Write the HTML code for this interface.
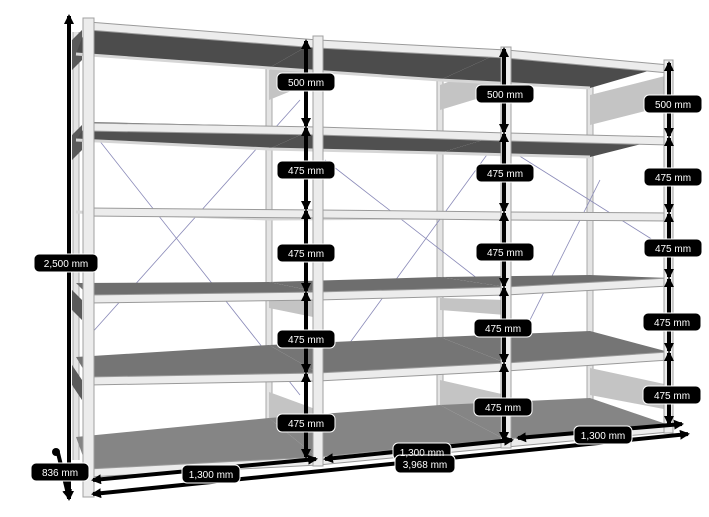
<!DOCTYPE html>
<html><head><meta charset="utf-8"><style>
html,body{margin:0;padding:0;background:#fff;}
svg{display:block;}
text{font-family:"Liberation Sans",sans-serif;font-size:10px;fill:#fff;text-anchor:middle;}
</style></head><body>
<svg width="709" height="517" viewBox="0 0 709 517" xmlns="http://www.w3.org/2000/svg">
<defs>
<marker id="a" viewBox="0 0 10 10" refX="8" refY="5" markerWidth="10" markerHeight="10" markerUnits="userSpaceOnUse" orient="auto-start-reverse">
<path d="M0,0 L10,5 L0,10 z" fill="#000"/></marker>
</defs>
<!-- back uprights -->
<g stroke="#a8a8a8" stroke-width="7"><line x1="76" y1="32" x2="76" y2="460"/><line x1="269" y1="62" x2="269" y2="434"/><line x1="440" y1="75" x2="440" y2="414"/><line x1="590" y1="84" x2="590" y2="404"/></g>
<g stroke="#e4e4e4" stroke-width="5"><line x1="76" y1="32" x2="76" y2="460"/><line x1="269" y1="62" x2="269" y2="434"/><line x1="440" y1="75" x2="440" y2="414"/><line x1="590" y1="84" x2="590" y2="404"/></g>
<!-- side plates -->
<g fill="#c4c4c4"><polygon points="269,70 318,50 318,80 269,100"/><polygon points="440,85 506,60 506,90 440,110"/><polygon points="590,95 669,75 669,105 590,125"/><polygon points="269,392 318,410 318,440 269,420"/><polygon points="440,380 506,395 506,425 440,405"/><polygon points="590,368 669,385 669,410 590,395"/><polygon points="440,298 506,300 506,315 440,310"/><polygon points="269,290 318,298 318,318 269,308"/></g>
<g fill="#5a5a5a"><polygon points="72,40 82,30 82,60 72,70"/><polygon points="72,135 82,125 82,150 72,160"/><polygon points="72,290 82,300 82,320 72,310"/><polygon points="72,365 82,380 82,400 72,385"/></g>
<!-- braces -->
<g stroke="#8a8ab8" stroke-width="0.8" fill="none"><line x1="95" y1="135" x2="300" y2="395"/><line x1="90" y1="335" x2="300" y2="100"/><line x1="325" y1="160" x2="505" y2="300"/><line x1="330" y1="370" x2="505" y2="130"/><line x1="510" y1="150" x2="669" y2="250"/><line x1="515" y1="350" x2="600" y2="180"/></g>
<!-- panels -->
<g fill="#4c4c4c"><polygon points="88,22 318,40 269,68 76,54"/><polygon points="318,40 506,50 440,80 269,68"/><polygon points="506,50 669,65 590,88 440,80"/></g>
<g fill="#505050"><polygon points="88,122 318,127 269,149 76,140"/><polygon points="318,127 506,133 440,153 269,149"/><polygon points="506,133 669,137 590,157 440,153"/></g>
<g fill="#6e6e6e"><polygon points="88,295 318,292 269,282 76,283"/><polygon points="318,292 506,287 440,277 269,282"/><polygon points="506,287 669,278 590,275 440,277"/></g>
<g fill="#757575"><polygon points="88,377 318,373 269,345 76,357"/><polygon points="318,373 506,363 440,337 269,345"/><polygon points="506,363 669,352 590,331 440,337"/></g>
<g fill="#858585"><polygon points="88,470 318,458 269,418 76,437"/><polygon points="318,458 506,440 440,405 269,418"/><polygon points="506,440 669,425 590,398 440,405"/></g>
<!-- back beams -->
<g stroke="#d6d6d6" stroke-width="3" fill="none"><polyline points="76,54 269,68 440,80 590,88"/><polyline points="76,140 269,149 440,153 590,157"/><polyline points="76,212 269,219 440,218 590,219"/></g>
<!-- front beams -->
<g stroke="#9a9a9a" stroke-width="9" fill="none"><polyline points="88,26 318,44 506,54 669,69"/><polyline points="88,127 318,131 506,137 669,141"/><polyline points="88,212 318,214 506,216 669,217"/><polyline points="88,299 318,296 506,291 669,282"/><polyline points="88,381 318,377 506,367 669,356"/><polyline points="88,473 318,461 506,443 669,428"/></g>
<g stroke="#ececec" stroke-width="7" fill="none"><polyline points="88,26 318,44 506,54 669,69"/><polyline points="88,127 318,131 506,137 669,141"/><polyline points="88,212 318,214 506,216 669,217"/><polyline points="88,299 318,296 506,291 669,282"/><polyline points="88,381 318,377 506,367 669,356"/><polyline points="88,473 318,461 506,443 669,428"/></g>
<!-- front uprights -->
<g fill="#ececec" stroke="#a0a0a0" stroke-width="1"><rect x="83" y="18" width="11" height="479"/><rect x="313" y="36" width="10" height="430"/><rect x="501" y="47" width="10" height="401"/><rect x="664" y="60" width="9" height="373"/></g>
<!-- dims -->
<g stroke="#000" stroke-width="4" fill="none" marker-start="url(#a)" marker-end="url(#a)">
<line x1="69" y1="16" x2="69" y2="499"/>
<line x1="306" y1="41" x2="306" y2="126"/><line x1="306" y1="128" x2="306" y2="209"/><line x1="306" y1="211" x2="306" y2="291"/><line x1="306" y1="293" x2="306" y2="372"/><line x1="306" y1="374" x2="306" y2="457"/>
<line x1="504" y1="49" x2="504" y2="132"/><line x1="504" y1="134" x2="504" y2="211"/><line x1="504" y1="213" x2="504" y2="286"/><line x1="504" y1="288" x2="504" y2="362"/><line x1="504" y1="364" x2="504" y2="440"/>
<line x1="669" y1="63" x2="669" y2="136"/><line x1="669" y1="138" x2="669" y2="212"/><line x1="669" y1="214" x2="669" y2="277"/><line x1="669" y1="279" x2="669" y2="351"/><line x1="669" y1="353" x2="669" y2="424"/>
<line x1="93" y1="480" x2="316" y2="459"/><line x1="325" y1="459" x2="512" y2="440"/><line x1="518" y1="438" x2="682" y2="424"/>
<line x1="93" y1="494" x2="688" y2="434"/>
<line x1="58" y1="453" x2="69" y2="498" marker-start="none"/>
</g>
<circle cx="56" cy="452" r="4" fill="#000"/>
<!-- labels -->
<g fill="#000" stroke="#fff" stroke-width="1">
<rect x="34" y="254" width="64" height="18" rx="5"/>
<rect x="31" y="463" width="58" height="18" rx="5"/>
<rect x="182" y="465" width="58" height="18" rx="5"/>
<rect x="393" y="443" width="58" height="17" rx="5"/>
<rect x="395" y="455" width="60" height="18" rx="5"/>
<rect x="574" y="426" width="58" height="18" rx="5"/>
<rect x="277" y="73" width="58" height="18" rx="5"/><rect x="277" y="161" width="58" height="18" rx="5"/><rect x="277" y="244" width="58" height="18" rx="5"/><rect x="277" y="330" width="58" height="18" rx="5"/><rect x="277" y="414" width="58" height="18" rx="5"/>
<rect x="476" y="85" width="58" height="18" rx="5"/><rect x="476" y="164" width="58" height="18" rx="5"/><rect x="476" y="243" width="58" height="18" rx="5"/><rect x="474" y="319" width="58" height="18" rx="5"/><rect x="474" y="398" width="58" height="18" rx="5"/>
<rect x="644" y="95" width="58" height="18" rx="5"/><rect x="644" y="168" width="58" height="18" rx="5"/><rect x="644" y="239" width="58" height="18" rx="5"/><rect x="643" y="313" width="58" height="18" rx="5"/><rect x="643" y="386" width="58" height="18" rx="5"/>
</g>
<text x="66" y="267">2,500 mm</text>
<text x="60" y="476">836 mm</text>
<text x="211" y="478">1,300 mm</text>
<text x="422" y="456">1,300 mm</text>
<text x="425" y="468">3,968 mm</text>
<text x="603" y="439">1,300 mm</text>
<text x="306" y="86">500 mm</text><text x="306" y="174">475 mm</text><text x="306" y="257">475 mm</text><text x="306" y="343">475 mm</text><text x="306" y="427">475 mm</text>
<text x="505" y="98">500 mm</text><text x="505" y="177">475 mm</text><text x="505" y="256">475 mm</text><text x="503" y="332">475 mm</text><text x="503" y="411">475 mm</text>
<text x="673" y="108">500 mm</text><text x="673" y="181">475 mm</text><text x="673" y="252">475 mm</text><text x="672" y="326">475 mm</text><text x="672" y="399">475 mm</text>
</svg>
</body></html>
